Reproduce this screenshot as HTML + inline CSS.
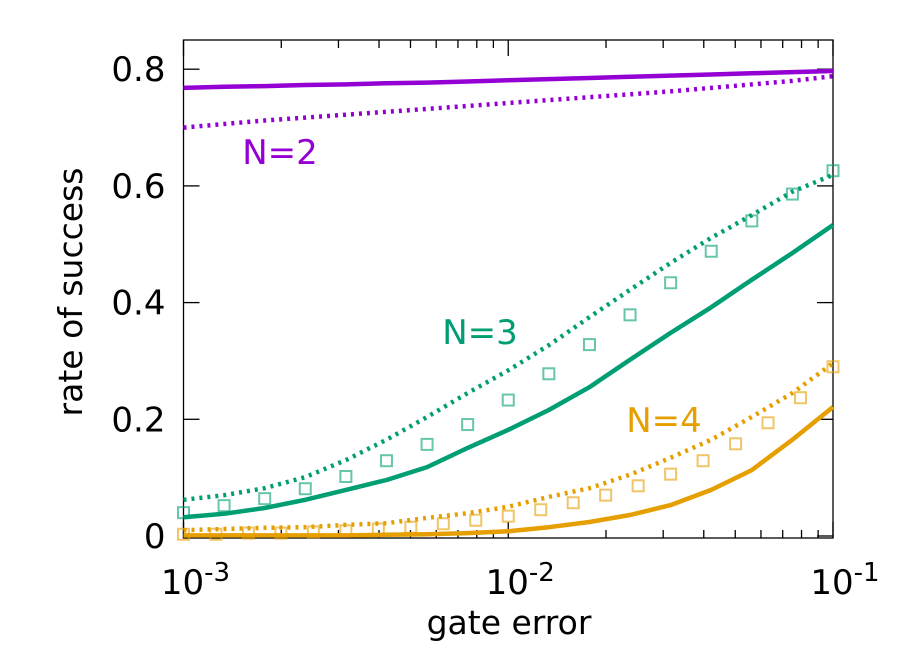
<!DOCTYPE html>
<html><head><meta charset="utf-8"><style>
html,body{margin:0;padding:0;background:#fff;}
svg{display:block;font-family:"DejaVu Sans","Liberation Sans",sans-serif;}
</style></head><body>
<svg id="chart" width="900" height="650"></svg>
<script>
// log10 of gate error for lines / green squares (step 0.125) and orange squares (step 0.1)
const xLineExp=[-3,-2.875,-2.75,-2.625,-2.5,-2.375,-2.25,-2.125,-2,-1.875,-1.75,-1.625,-1.5,-1.375,-1.25,-1.125,-1];
const xOrangeSqExp=[-3,-2.9,-2.8,-2.7,-2.6,-2.5,-2.4,-2.3,-2.2,-2.1,-2,-1.9,-1.8,-1.7,-1.6,-1.5,-1.4,-1.3,-1.2,-1.1,-1];
const purpleSolid=[0.768,0.770,0.771,0.773,0.774,0.776,0.777,0.779,0.781,0.783,0.785,0.787,0.789,0.791,0.793,0.795,0.797];
const purpleDotted=[0.700,0.706,0.712,0.717,0.722,0.727,0.732,0.737,0.742,0.747,0.752,0.757,0.762,0.768,0.774,0.780,0.788];
const greenDotted=[0.062,0.070,0.082,0.101,0.130,0.165,0.204,0.245,0.284,0.327,0.375,0.422,0.468,0.511,0.550,0.590,0.619];
const greenSolid=[0.032,0.038,0.048,0.062,0.079,0.096,0.118,0.151,0.182,0.216,0.255,0.302,0.348,0.392,0.439,0.485,0.533];
const orangeDotted=[0.010,0.012,0.014,0.015,0.019,0.022,0.031,0.039,0.050,0.067,0.082,0.105,0.134,0.165,0.204,0.245,0.296];
const orangeSolid=[0.001,0.001,0.001,0.001,0.001,0.002,0.003,0.005,0.008,0.015,0.024,0.036,0.053,0.079,0.113,0.165,0.221];
const greenSquares=[0.040,0.052,0.064,0.081,0.102,0.129,0.157,0.191,0.233,0.278,0.328,0.379,0.434,0.488,0.540,0.586,0.626];
const orangeSquares=[0.003,0.003,0.005,0.005,0.007,0.009,0.012,0.015,0.021,0.027,0.034,0.045,0.057,0.070,0.086,0.106,0.129,0.158,0.194,0.237,0.290];
const yTicks=[0,0.2,0.4,0.6,0.8];
const yTickLabels=["0","0.2","0.4","0.6","0.8"];
const xTickExps=[-3,-2,-1];

const L=183.5,R=833,T=40,B=538;
const Y0=536,YS=583.5;
function sxe(e){return L+(e+3)*(R-L)/2;}
function sx(v){return sxe(Math.log10(v));}
function sy(v){return Y0-v*YS;}
const NS="http://www.w3.org/2000/svg";
const svg=document.getElementById('chart');
function mk(t,a,parent){const e=document.createElementNS(NS,t);for(const k in a)e.setAttribute(k,a[k]);(parent||svg).appendChild(e);return e;}

const box=mk('rect',{x:L,y:T,width:R-L,height:B-T,fill:'none',stroke:'#000','stroke-width':1.3});



yTicks.forEach((v,i)=>{
  const y=sy(v);
  const t1=mk('line',{x1:L,x2:L+16,y1:y,y2:y,stroke:'#000','stroke-width':1.3});
  
  
  const t2=mk('line',{x1:R,x2:R-16,y1:y,y2:y,stroke:'#000','stroke-width':1.3});
  
  
  const tx=mk('text',{x:L-18,y:y+12,'text-anchor':'end','font-size':34});
  tx.textContent=yTickLabels[i];
  
  
});
for(let d=-3;d<=-1;d++){
  for(let m=1;m<=9;m++){
    if(d===-1&&m>1)break;
    const x=sx(m*Math.pow(10,d));
    const len=m===1?16:8;
    const a=mk('line',{x1:x,x2:x,y1:B,y2:B-len,stroke:'#000','stroke-width':1.3});
    
    
    const b=mk('line',{x1:x,x2:x,y1:T,y2:T+len,stroke:'#000','stroke-width':1.3});
    
    
  }
}
xTickExps.forEach(e=>{
  const x=sxe(e);
  const t=mk('text',{x:x+12,y:594,'text-anchor':'middle','font-size':34});
  
  
  const s1=mk('tspan',{},t);s1.textContent='10';
  const s2=mk('tspan',{dy:-13,'font-size':26},t);s2.textContent=String(e);
});

const xt=mk('text',{x:509,y:634,'text-anchor':'middle','font-size':33});
xt.textContent='gate error';


const yt=mk('text',{x:0,y:0,'text-anchor':'middle','font-size':33,transform:'translate(82,292) rotate(-90)'});
yt.textContent='rate of success';



function line(vals,color,dotted,name){
  const d=vals.map((v,i)=>(i?'L':'M')+sxe(xLineExp[i]).toFixed(1)+','+sy(v).toFixed(1)).join(' ');
  const p=mk('path',{d:d,fill:'none',stroke:color,'stroke-width':dotted?4.5:4.5,'stroke-dasharray':dotted?'3 5':'none','stroke-linejoin':'round'});
  
  
}
function squares(vals,xs,color,name){
  vals.forEach((v,i)=>{
    const x=sxe(xs[i]);
    const r=mk('rect',{x:x-5.5,y:sy(v)-5.5,width:11,height:11,fill:'none',stroke:color,'stroke-width':2,opacity:0.6});
    
    
  });
}
const P='#9400d3',G='#009e73',O='#e69f00';
line(purpleSolid,P,false,'n2-solid-line');
line(purpleDotted,P,true,'n2-dotted-line');
line(greenDotted,G,true,'n3-dotted-line');
line(greenSolid,G,false,'n3-solid-line');
line(orangeDotted,O,true,'n4-dotted-line');
line(orangeSolid,O,false,'n4-solid-line');
squares(greenSquares,xLineExp,G,'n3-square-point');
squares(orangeSquares,xOrangeSqExp,O,'n4-square-point');

function lab(txt,x,y,c,name){
  const t=mk('text',{x:x,y:y,'text-anchor':'middle','font-size':34,fill:c});
  t.textContent=txt;
  
  
}
lab('N=2',280,164,P,'n2-label');
lab('N=3',480,344,G,'n3-label');
lab('N=4',664,432,O,'n4-label');
</script>
</body></html>
